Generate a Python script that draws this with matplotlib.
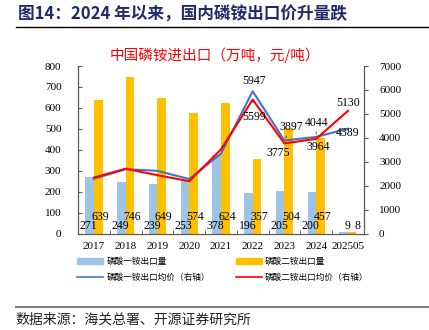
import numpy as np
import matplotlib
matplotlib.use("Agg")
import matplotlib.pyplot as plt
from matplotlib.patches import Patch
from matplotlib.lines import Line2D

plt.rcParams['font.family'] = ['Liberation Serif', 'Noto Sans CJK SC']

# data
years = ['2017', '2018', '2019', '2020', '2021', '2022', '2023', '2024', '202505']
map_volume = [271, 249, 239, 253, 378, 196, 205, 200, 9]      # 万吨
dap_volume = [639, 746, 649, 574, 624, 357, 504, 457, 8]      # 万吨
map_price = [2300, 2700, 2630, 2290, 3350, 5947, 3897, 4044, 4389]  # 元/吨
dap_price = [2350, 2720, 2450, 2200, 3520, 5599, 3775, 3964, 5130]  # 元/吨

BLUE_BAR = '#9DC3E6'
GOLD_BAR = '#FFC000'
BLUE_LINE = '#4472C4'
RED_LINE = '#FF0000'
AXIS_C = '#595959'
cjk = ['Noto Sans CJK SC', 'DejaVu Sans']

fig = plt.figure(figsize=(4.29, 3.30), dpi=100)
ax = fig.add_axes([0.182, 0.291, 0.666, 0.509])
ax2 = ax.twinx()

x = np.arange(len(years))
w = 0.27
ax.bar(x - w / 2, map_volume, w, color=BLUE_BAR, zorder=2)
ax.bar(x + w / 2, dap_volume, w, color=GOLD_BAR, zorder=2)

# bar value labels near the bottom
for i in range(len(years)):
    if i < len(years) - 1:
        ax.text(x[i] - 0.17, 38, str(map_volume[i]), ha='center', va='center',
                fontsize=8.5, zorder=5)
        ax.text(x[i] + 0.2, 80, str(dap_volume[i]), ha='center', va='center',
                fontsize=8.5, zorder=5)
    else:
        ax.text(x[i], 38, str(map_volume[i]), ha='center', va='center',
                fontsize=8.5, zorder=5)
        ax.text(x[i] + 0.3, 38, str(dap_volume[i]), ha='center', va='center',
                fontsize=8.5, zorder=5)

ax2.plot(x, map_price, color=BLUE_LINE, lw=1.5, zorder=3)
ax2.plot(x, dap_price, color=RED_LINE, lw=1.5, zorder=4)

# price labels (offsets in pixels)
price_labels = [
    (5, map_price, (1, 10), False),
    (5, dap_price, (1, -17), True),
    (6, map_price, (7, 13), True),
    (6, dap_price, (-6, -10), False),
    (7, map_price, (0, 14), True),
    (7, dap_price, (2, -8), False),
    (8, dap_price, (0, 8), False),
    (8, map_price, (0, -4), False),
]
for i, series, off, leader in price_labels:
    props = dict(arrowstyle='-', color='#404040', lw=0.6, shrinkA=4, shrinkB=2) if leader else None
    ax2.annotate(str(series[i]), xy=(x[i], series[i]), xytext=off,
                 textcoords='offset pixels', ha='center', va='center',
                 fontsize=8.5, arrowprops=props, zorder=6)

ax.set_xlim(-0.5, len(years) - 0.5)
ax.set_ylim(0, 800)
ax.set_yticks(range(0, 801, 100))
ax2.set_ylim(0, 7000)
ax2.set_yticks(range(0, 7001, 1000))
ax.set_xticks(x)
ax.set_xticklabels(years)
ax.set_xticks(np.arange(-0.5, len(years), 1), minor=True)
ax.tick_params(axis='x', which='major', length=0, labelsize=8, pad=6)
ax.tick_params(axis='x', which='minor', length=3, direction='in', color=AXIS_C)
ax.tick_params(axis='y', length=3, direction='in', labelsize=8, color=AXIS_C, pad=12)
ax2.tick_params(axis='y', length=3, direction='out', labelsize=8, color=AXIS_C, pad=8)

for a in (ax, ax2):
    a.spines['top'].set_visible(False)
    for s in ('left', 'right', 'bottom'):
        a.spines[s].set_color(AXIS_C)
        a.spines[s].set_linewidth(0.9)
ax.spines['right'].set_visible(False)
ax2.spines['left'].set_visible(False)
ax2.spines['bottom'].set_visible(False)
ax2.set_zorder(ax.get_zorder() + 1)
ax2.patch.set_visible(False)

# headers
fig.text(0.042, 0.955, '图14：2024 年以来，国内磷铵出口价升量跌', fontsize=12,
         fontweight='bold', color='#1F2A6B', ha='left', va='center',
         family=['Noto Sans CJK SC', 'DejaVu Sans'])
fig.add_artist(Line2D([0.037, 1.0], [0.918, 0.918], color='black', lw=1.0))
fig.text(0.5, 0.833, '中国磷铵进出口（万吨，元/吨）', fontsize=10.5, color=RED_LINE,
         ha='center', va='center', family=cjk)

handles = [Patch(color=BLUE_BAR), Patch(color=GOLD_BAR),
           Line2D([], [], color=BLUE_LINE, lw=1.2), Line2D([], [], color=RED_LINE, lw=1.2)]
labels = ['磷酸一铵出口量', '磷酸二铵出口量', '磷酸一铵出口均价（右轴）', '磷酸二铵出口均价（右轴）']
# order for ncol=2 (column-major filling)
order = [0, 2, 1, 3]
fig.legend([handles[k] for k in order], [labels[k] for k in order], ncol=2,
           loc='upper left', bbox_to_anchor=(0.162, 0.245), frameon=False,
           prop={'family': cjk, 'size': 6.2}, handlelength=3.0, handleheight=0.6,
           columnspacing=3.0, labelspacing=0.8, handletextpad=0.4)

fig.add_artist(Line2D([0.037, 1.0], [0.07, 0.07], color='#7F7F7F', lw=1.5))
fig.text(0.037, 0.03, '数据来源：海关总署、开源证券研究所', fontsize=10, color='#222222',
         ha='left', va='center', family=cjk)

fig.savefig('out.png', dpi=100)
